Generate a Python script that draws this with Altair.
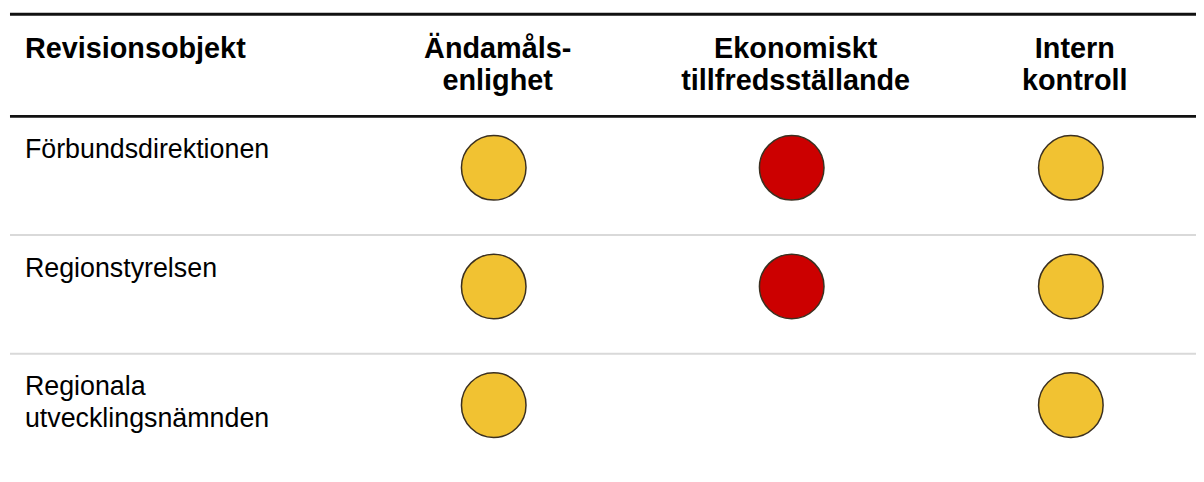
import altair as alt
import pandas as pd

# ---- data ----
first_header = "Revisionsobjekt"
columns = ["Ändamålsenlighet", "Ekonomiskt tillfredsställande", "Intern kontroll"]
column_headers = ["Ändamåls-\nenlighet", "Ekonomiskt\ntillfredsställande", "Intern\nkontroll"]
rows = ["Förbundsdirektionen", "Regionstyrelsen", "Regionala utvecklingsnämnden"]
row_labels = ["Förbundsdirektionen", "Regionstyrelsen", "Regionala\nutvecklingsnämnden"]
rating_andamalsenlighet = ["Gul", "Gul", "Gul"]
rating_ekonomi = ["Röd", "Röd", None]
rating_intern_kontroll = ["Gul", "Gul", "Gul"]

ratings = [rating_andamalsenlighet, rating_ekonomi, rating_intern_kontroll]

W, H = 1196, 466
FONT = "Liberation Sans"

xscale = alt.Scale(domain=[0, 1, 2, 3], range=[17, 489, 789, 1070], nice=False, zero=False)
yscale = alt.Scale(domain=[-1.4, 2.5], reverse=True, nice=False, zero=False)

circ_rows = []
for ci, col in enumerate(columns):
    for ri, r in enumerate(rows):
        val = ratings[ci][ri]
        if val is not None:
            circ_rows.append({"kolumn": col, "col": ci + 1, "objekt": r, "row": ri, "bedomning": val})
circ_df = pd.DataFrame(circ_rows)

row_df = pd.DataFrame({"label": row_labels, "row": list(range(len(rows))), "col": [0] * len(rows)})
head0_df = pd.DataFrame({"label": [first_header], "row": [-1], "col": [0]})
head_df = pd.DataFrame({"label": column_headers, "row": [-1] * 3, "col": [1, 2, 3]})
black_lines = pd.DataFrame({"v": [-1.36, -0.5]})
gray_lines = pd.DataFrame({"v": [0.5, 1.5]})

X = lambda: alt.X("col:Q", scale=xscale, axis=None)
Y = lambda: alt.Y("row:Q", scale=yscale, axis=None)

black = alt.Chart(black_lines).mark_rule(color="#111111", strokeWidth=3).encode(
    y=alt.Y("v:Q", scale=yscale, axis=None), x=alt.value(2), x2=alt.value(W)
)
gray = alt.Chart(gray_lines).mark_rule(color="#d9d9d9", strokeWidth=2).encode(
    y=alt.Y("v:Q", scale=yscale, axis=None), x=alt.value(2), x2=alt.value(W)
)

head0 = alt.Chart(head0_df).mark_text(
    align="left", baseline="alphabetic", dy=1, font=FONT, fontSize=29, fontWeight="bold", color="#000000"
).encode(x=X(), y=Y(), text="label:N")

heads = alt.Chart(head_df).mark_text(
    align="center", baseline="alphabetic", dy=1, dx=4, font=FONT, fontSize=29, fontWeight="bold",
    color="#000000", lineBreak="\n", lineHeight=32
).encode(x=X(), y=Y(), text="label:N")

labels = alt.Chart(row_df).mark_text(
    align="left", baseline="alphabetic", dy=-18, font=FONT, fontSize=27,
    color="#000000", lineBreak="\n", lineHeight=32
).encode(x=X(), y=Y(), text="label:N")

circles = alt.Chart(circ_df).mark_circle(
    size=4225, opacity=1, stroke="#3b3020", strokeWidth=1.5
).encode(
    x=X(), y=Y(), yOffset=alt.value(-8),
    fill=alt.Fill("bedomning:N", scale=alt.Scale(domain=["Gul", "Röd"], range=["#F1C232", "#CC0000"]), legend=None),
)

chart = alt.layer(gray, black, head0, heads, labels, circles).properties(
    width=W, height=H, padding=0, autosize="none"
).configure_view(stroke=None)

chart.save("out.html", embed_options={"renderer": "svg", "actions": False})
